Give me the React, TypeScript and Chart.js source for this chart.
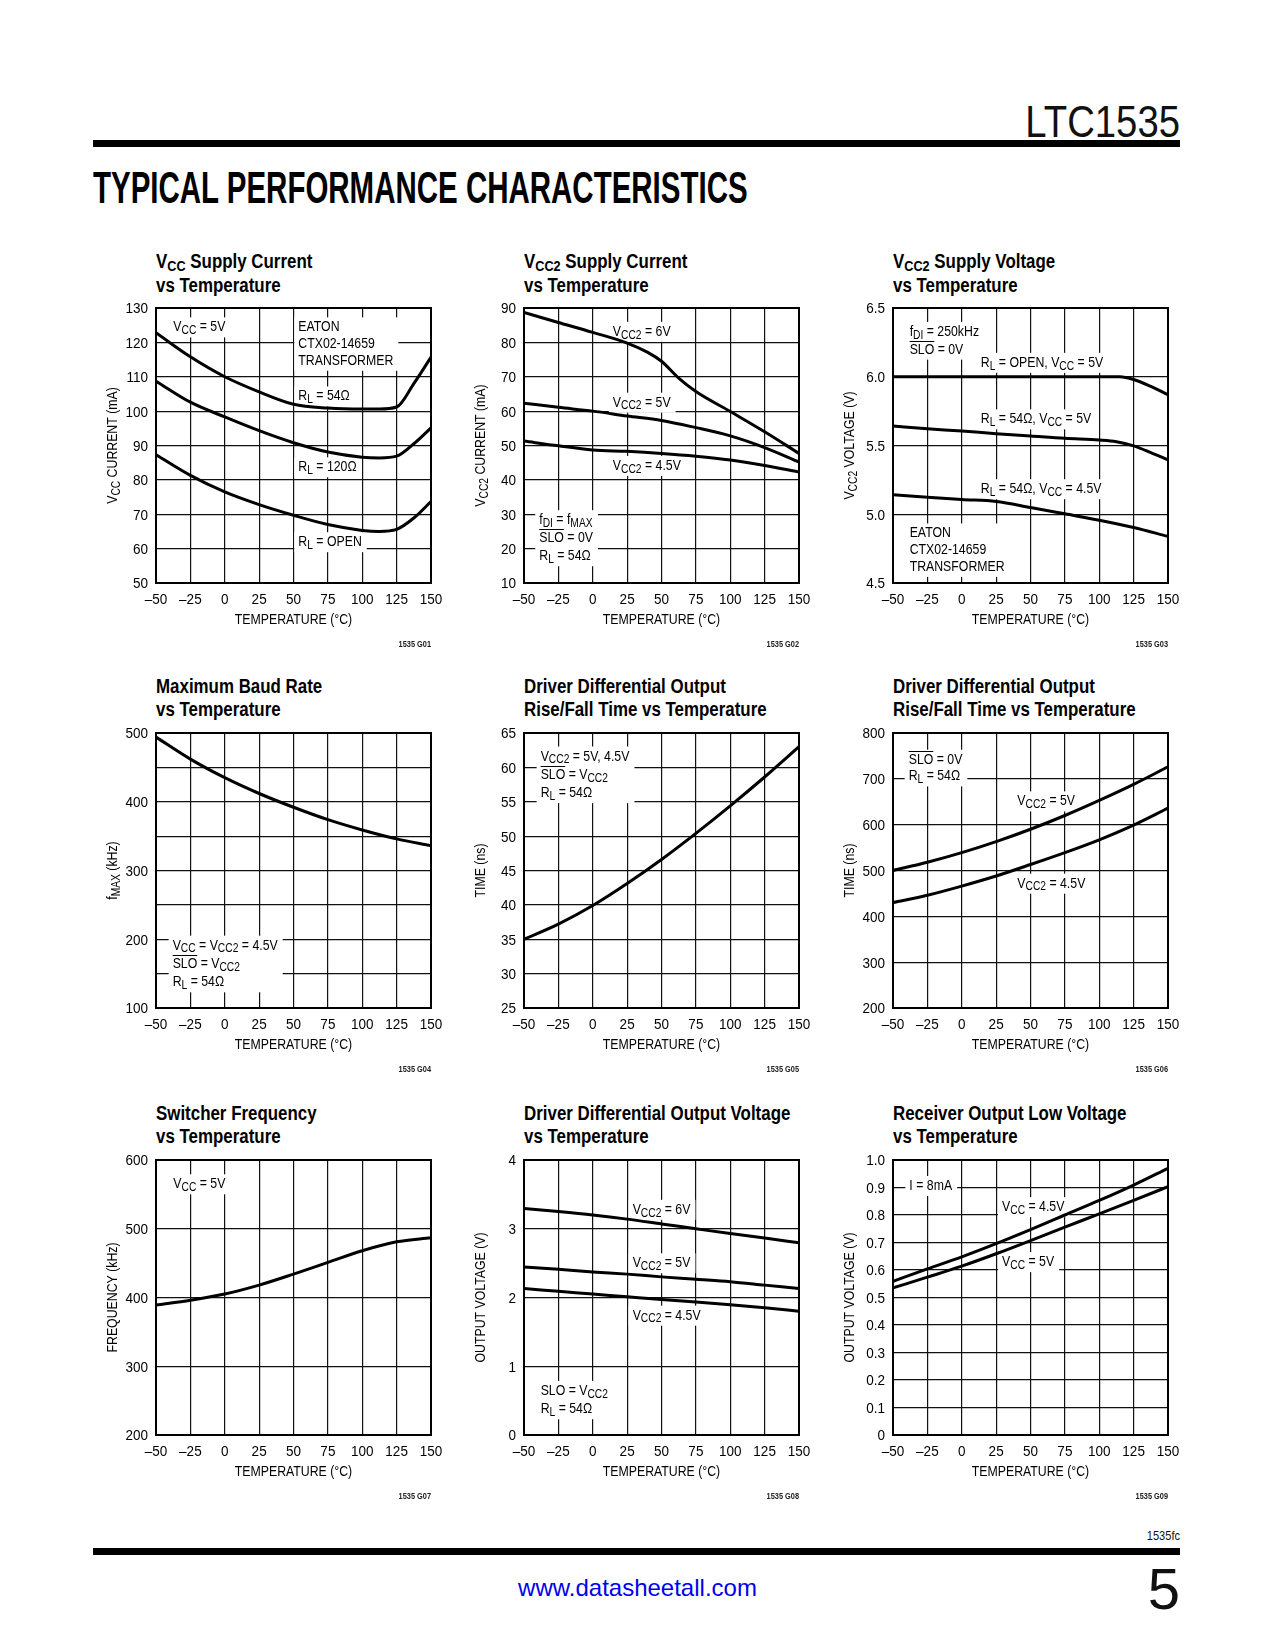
import React, { useEffect, useRef } from 'react';
import { Chart, registerables } from 'chart.js';

Chart.register(...registerables);

const FONT = '"Liberation Sans", Arial, Helvetica, sans-serif';
const SX = 0.82; // horizontal compression to mimic a condensed face
const SX_TICK = 0.9;

// ---------- data ----------
const TEMPS = [-50, -25, 0, 25, 50, 75, 100, 125, 150];

// G01 Vcc supply current (mA)
const G01_TEMPS = [-50, -25, 0, 25, 50, 75, 100, 112.5, 125, 137.5, 150];
const G01_RL54 = [122.8, 115.8, 110.0, 105.6, 102.0, 100.9, 100.6, 100.6, 101.2, 108.0, 115.7];
const G01_RL120 = [108.7, 102.6, 98.3, 94.3, 90.8, 88.1, 86.6, 86.4, 86.9, 90.5, 95.1];
const G01_OPEN = [87.3, 81.3, 76.5, 72.8, 69.7, 67.0, 65.3, 65.0, 65.6, 68.9, 73.7];

// G02 Vcc2 supply current (mA)
const G02_TEMPS_6V = [-50, -25, 0, 25, 40, 50, 62.5, 75, 100, 125, 150];
const G02_6V = [88.7, 85.8, 82.9, 79.8, 77.1, 74.5, 69.6, 65.7, 59.9, 54.0, 47.7];
const G02_5V = [62.3, 61.1, 60.0, 58.6, 57.3, 55.2, 52.8, 49.4, 45.2];
const G02_45V = [51.3, 49.9, 48.7, 48.3, 47.7, 46.9, 45.8, 44.2, 42.3];

// G03 Vcc2 supply voltage (V)
const G03_TEMPS_OPEN = [-50, 0, 50, 100, 115, 125, 137.5, 150];
const G03_OPEN = [6.0, 6.0, 6.0, 6.0, 6.0, 5.98, 5.93, 5.87];
const G03_TEMPS_54 = [-50, -25, 0, 25, 50, 75, 100, 112.5, 125, 137.5, 150];
const G03_54_5V = [5.641, 5.622, 5.605, 5.586, 5.569, 5.552, 5.54, 5.528, 5.497, 5.448, 5.395];
const G03_54_45V = [5.141, 5.124, 5.107, 5.093, 5.049, 5.003, 4.957, 4.904, 4.839];

// G04 max baud rate (kHz)
const G04_FMAX = [494, 462, 435, 412, 392, 374, 359, 346, 336];

// G05 rise/fall time, SLO = VCC2 (ns)
const G05_TIME = [35.0, 37.2, 39.9, 43.1, 46.6, 50.4, 54.4, 58.6, 63.0];

// G06 rise/fall time, SLO = 0V (ns)
const G06_5V = [500, 518, 539, 563, 590, 620, 653, 688, 726];
const G06_45V = [430, 446, 466, 488, 513, 539, 567, 599, 636];

// G07 switcher frequency (kHz)
const G07_FREQ = [389, 396, 405, 418, 434, 451, 468, 481, 487];

// G08 driver differential output voltage (V)
const G08_6V = [3.295, 3.25, 3.2, 3.14, 3.07, 3.0, 2.93, 2.865, 2.795];
const G08_5V = [2.445, 2.41, 2.372, 2.34, 2.3, 2.265, 2.23, 2.18, 2.13];
const G08_45V = [2.13, 2.09, 2.05, 2.01, 1.97, 1.935, 1.895, 1.85, 1.8];

// G09 receiver output low voltage (V)
const G09_45V = [0.559, 0.604, 0.648, 0.696, 0.747, 0.8, 0.853, 0.909, 0.97];
const G09_5V = [0.535, 0.574, 0.614, 0.659, 0.707, 0.756, 0.804, 0.853, 0.903];

// ---------- layout ----------
const COLS = [156, 524, 893];
const ROWS = [308, 733, 1160];
const PLOT = 275;
const LEFT_W = 70;
const TOP_PAD = 14;
const BOTTOM_H = 72;
const RIGHT_PAD = 25;

type Note = { x: number; y: number; lines: string[]; lh?: number };
type Series = { x: number[]; y: number[] };
type Spec = {
  id: string;
  col: number;
  row: number;
  title: string[];
  yTitle: string;
  yMin: number;
  yMax: number;
  yStep: number;
  yFmt: (v: number) => string;
  series: Series[];
  notes: Note[];
};

const SPECS: Spec[] = [
  {
    id: '1535 G01', col: 0, row: 0,
    title: ['V_{CC} Supply Current', 'vs Temperature'],
    yTitle: 'V_{CC} CURRENT (mA)',
    yMin: 50, yMax: 130, yStep: 10, yFmt: (v) => String(v),
    series: [
      { x: G01_TEMPS, y: G01_RL54 },
      { x: G01_TEMPS, y: G01_RL120 },
      { x: G01_TEMPS, y: G01_OPEN },
    ],
    notes: [
      { x: -37.4, y: 123.2, lines: ['V_{CC} = 5V'] },
      { x: 53.5, y: 123.2, lines: ['EATON', 'CTX02-14659', 'TRANSFORMER'], lh: 16.7 },
      { x: 53.5, y: 103.1, lines: ['R_{L} = 54Ω'] },
      { x: 53.5, y: 82.5, lines: ['R_{L} = 120Ω'] },
      { x: 53.5, y: 60.7, lines: ['R_{L} = OPEN'] },
    ],
  },
  {
    id: '1535 G02', col: 1, row: 0,
    title: ['V_{CC2} Supply Current', 'vs Temperature'],
    yTitle: 'V_{CC2} CURRENT (mA)',
    yMin: 10, yMax: 90, yStep: 10, yFmt: (v) => String(v),
    series: [
      { x: G02_TEMPS_6V, y: G02_6V },
      { x: TEMPS, y: G02_5V },
      { x: TEMPS, y: G02_45V },
    ],
    notes: [
      { x: 14.6, y: 81.9, lines: ['V_{CC2} = 6V'] },
      { x: 14.6, y: 61.3, lines: ['V_{CC2} = 5V'] },
      { x: 14.6, y: 42.9, lines: ['V_{CC2} = 4.5V'] },
      { x: -38.9, y: 27.1, lines: ['f_{DI} = f_{MAX}', '~{SLO} = 0V', 'R_{L} = 54Ω'], lh: 18 },
    ],
  },
  {
    id: '1535 G03', col: 2, row: 0,
    title: ['V_{CC2} Supply Voltage', 'vs Temperature'],
    yTitle: 'V_{CC2} VOLTAGE (V)',
    yMin: 4.5, yMax: 6.5, yStep: 0.5, yFmt: (v) => v.toFixed(1),
    series: [
      { x: G03_TEMPS_OPEN, y: G03_OPEN },
      { x: G03_TEMPS_54, y: G03_54_5V },
      { x: TEMPS, y: G03_54_45V },
    ],
    notes: [
      { x: -37.9, y: 6.297, lines: ['f_{DI} = 250kHz', '~{SLO} = 0V'], lh: 17.7 },
      { x: 13.9, y: 6.072, lines: ['R_{L} = OPEN, V_{CC} = 5V'] },
      { x: 13.9, y: 5.661, lines: ['R_{L} = 54Ω, V_{CC} = 5V'] },
      { x: 13.9, y: 5.153, lines: ['R_{L} = 54Ω, V_{CC} = 4.5V'] },
      { x: -37.9, y: 4.831, lines: ['EATON', 'CTX02-14659', 'TRANSFORMER'], lh: 16.7 },
    ],
  },
  {
    id: '1535 G04', col: 0, row: 1,
    title: ['Maximum Baud Rate', 'vs Temperature'],
    yTitle: 'f_{MAX} (kHz)',
    yMin: 100, yMax: 500, yStep: 50, yFmt: (v) => (v % 100 === 0 ? String(v) : ''),
    series: [{ x: TEMPS, y: G04_FMAX }],
    notes: [
      { x: -37.9, y: 184.8, lines: ['V_{CC} = V_{CC2} = 4.5V', '~{SLO} = V_{CC2}', 'R_{L} = 54Ω'], lh: 18.3 },
    ],
  },
  {
    id: '1535 G05', col: 1, row: 1,
    title: ['Driver Differential Output', 'Rise/Fall Time vs Temperature'],
    yTitle: 'TIME (ns)',
    yMin: 25, yMax: 65, yStep: 5, yFmt: (v) => String(v),
    series: [{ x: TEMPS, y: G05_TIME }],
    notes: [
      { x: -37.9, y: 61.0, lines: ['V_{CC2} = 5V, 4.5V', '~{SLO} = V_{CC2}', 'R_{L} = 54Ω'], lh: 18.3 },
    ],
  },
  {
    id: '1535 G06', col: 2, row: 1,
    title: ['Driver Differential Output', 'Rise/Fall Time vs Temperature'],
    yTitle: 'TIME (ns)',
    yMin: 200, yMax: 800, yStep: 100, yFmt: (v) => String(v),
    series: [
      { x: TEMPS, y: G06_5V },
      { x: TEMPS, y: G06_45V },
    ],
    notes: [
      { x: -38.6, y: 733, lines: ['~{SLO} = 0V', 'R_{L} = 54Ω'], lh: 16.7 },
      { x: 40.4, y: 642, lines: ['V_{CC2} = 5V'] },
      { x: 40.4, y: 462.5, lines: ['V_{CC2} = 4.5V'] },
    ],
  },
  {
    id: '1535 G07', col: 0, row: 2,
    title: ['Switcher Frequency', 'vs Temperature'],
    yTitle: 'FREQUENCY (kHz)',
    yMin: 200, yMax: 600, yStep: 100, yFmt: (v) => String(v),
    series: [{ x: TEMPS, y: G07_FREQ }],
    notes: [{ x: -37.4, y: 558.8, lines: ['V_{CC} = 5V'] }],
  },
  {
    id: '1535 G08', col: 1, row: 2,
    title: ['Driver Differential Output Voltage', 'vs Temperature'],
    yTitle: 'OUTPUT VOLTAGE (V)',
    yMin: 0, yMax: 4, yStep: 1, yFmt: (v) => String(v),
    series: [
      { x: TEMPS, y: G08_6V },
      { x: TEMPS, y: G08_5V },
      { x: TEMPS, y: G08_45V },
    ],
    notes: [
      { x: 29, y: 3.217, lines: ['V_{CC2} = 6V'] },
      { x: 29, y: 2.44, lines: ['V_{CC2} = 5V'] },
      { x: 29, y: 1.677, lines: ['V_{CC2} = 4.5V'] },
      { x: -37.9, y: 0.583, lines: ['SLO = V_{CC2}', 'R_{L} = 54Ω'], lh: 18.3 },
    ],
  },
  {
    id: '1535 G09', col: 2, row: 2,
    title: ['Receiver Output Low Voltage', 'vs Temperature'],
    yTitle: 'OUTPUT VOLTAGE (V)',
    yMin: 0, yMax: 1, yStep: 0.1, yFmt: (v) => (Math.abs(v) < 1e-9 ? '0' : v.toFixed(1)),
    series: [
      { x: TEMPS, y: G09_45V },
      { x: TEMPS, y: G09_5V },
    ],
    notes: [
      { x: -38.1, y: 0.891, lines: ['I = 8mA'] },
      { x: 29.3, y: 0.814, lines: ['V_{CC} = 4.5V'] },
      { x: 29.3, y: 0.614, lines: ['V_{CC} = 5V'] },
    ],
  },
];

// ---------- rich text helpers ----------
type Seg = { t: string; k: 'n' | 's' | 'o' };
function parseRich(s: string): Seg[] {
  const out: Seg[] = [];
  const re = /_\{([^}]*)\}|~\{([^}]*)\}/g;
  let last = 0;
  let m: RegExpExecArray | null;
  while ((m = re.exec(s))) {
    if (m.index > last) out.push({ t: s.slice(last, m.index), k: 'n' });
    if (m[1] !== undefined) out.push({ t: m[1], k: 's' });
    else out.push({ t: m[2], k: 'o' });
    last = re.lastIndex;
  }
  if (last < s.length) out.push({ t: s.slice(last), k: 'n' });
  return out;
}

const TXT = 15;
const SUB = 12.5;
function fontFor(k: string, size = TXT) {
  return `${k === 's' ? (size * SUB) / TXT : size}px ${FONT}`;
}
function measureRich(ctx: CanvasRenderingContext2D, s: string, size = TXT, sx = SX) {
  let w = 0;
  for (const seg of parseRich(s)) {
    ctx.font = fontFor(seg.k, size);
    w += ctx.measureText(seg.t).width * sx;
  }
  return w;
}
function drawRich(ctx: CanvasRenderingContext2D, s: string, x: number, y: number, size = TXT, sx = SX) {
  let cx = x;
  for (const seg of parseRich(s)) {
    ctx.font = fontFor(seg.k, size);
    ctx.textAlign = 'left';
    ctx.textBaseline = 'alphabetic';
    ctx.fillStyle = '#000';
    const w = ctx.measureText(seg.t).width * sx;
    const dy = seg.k === 's' ? size * 0.18 : 0;
    ctx.save();
    ctx.translate(cx, y + dy);
    ctx.scale(sx, 1);
    ctx.fillText(seg.t, 0, 0);
    ctx.restore();
    if (seg.k === 'o') {
      ctx.save();
      ctx.strokeStyle = '#000';
      ctx.lineWidth = 1;
      ctx.beginPath();
      const oy = Math.round(y - size * 0.716 - 2) + 0.5;
      ctx.moveTo(cx, oy);
      ctx.lineTo(cx + w, oy);
      ctx.stroke();
      ctx.restore();
    }
    cx += w;
  }
}

function makePlugin(spec: Spec) {
  return {
    id: 'panelDeco',
    beforeDatasetsDraw(chart: any) {
      const { ctx } = chart;
      const xs = chart.scales.x;
      const ys = chart.scales.y;
      ctx.save();
      for (const n of spec.notes) {
        const px = xs.getPixelForValue(n.x);
        const py = ys.getPixelForValue(n.y);
        const lh = n.lh || 17.5;
        const w = Math.max(...n.lines.map((l) => measureRich(ctx, l)));
        ctx.fillStyle = '#fff';
        ctx.fillRect(px - 4, py - 14, w + 9, (n.lines.length - 1) * lh + 20);
        n.lines.forEach((l, i) => drawRich(ctx, l, px, py + i * lh));
      }
      ctx.restore();
    },
    afterDatasetsDraw(chart: any) {
      const { ctx, chartArea: a } = chart;
      ctx.save();
      ctx.strokeStyle = '#000';
      ctx.lineWidth = 2;
      ctx.strokeRect(a.left, a.top, a.right - a.left, a.bottom - a.top);
      ctx.restore();
    },
    afterDraw(chart: any) {
      const { ctx, chartArea: a } = chart;
      const xs = chart.scales.x;
      const ys = chart.scales.y;
      // tick labels, positioned by the library's scales
      for (const t of ys.ticks) {
        const lab = spec.yFmt(Number(t.value));
        if (!lab) continue;
        const py = ys.getPixelForValue(t.value);
        const w = measureRich(ctx, lab, TXT, SX_TICK);
        drawRich(ctx, lab, a.left - 8 - w, py + 5.4, TXT, SX_TICK);
      }
      for (const t of xs.ticks) {
        const v = Number(t.value);
        const lab = fmtTemp(v);
        const px = xs.getPixelForValue(v);
        const w = measureRich(ctx, lab, TXT, SX_TICK);
        drawRich(ctx, lab, px - w / 2, a.bottom + 20.5, TXT, SX_TICK);
      }
      ctx.save();
      // y title
      ctx.translate(a.left - 44, (a.top + a.bottom) / 2);
      ctx.rotate(-Math.PI / 2);
      const w = measureRich(ctx, spec.yTitle);
      drawRich(ctx, spec.yTitle, -w / 2, 5.4);
      ctx.restore();
      // x title
      const xt = 'TEMPERATURE (°C)';
      const xw = measureRich(ctx, xt);
      drawRich(ctx, xt, (a.left + a.right) / 2 - xw / 2, a.bottom + 40.5);
      // id
      ctx.save();
      ctx.font = `bold 9px ${FONT}`;
      ctx.textAlign = 'left';
      ctx.fillStyle = '#222';
      const iw = ctx.measureText(spec.id).width * SX;
      ctx.translate(a.right - iw, a.bottom + 64);
      ctx.scale(SX, 1);
      ctx.fillText(spec.id, 0, 0);
      ctx.restore();
    },
  };
}

const fmtTemp = (v: number) => (v < 0 ? '\u2013' + Math.abs(v) : String(v));

function Panel({ spec }: { spec: Spec }) {
  const ref = useRef<HTMLCanvasElement | null>(null);
  const W = LEFT_W + PLOT + RIGHT_PAD;
  const H = TOP_PAD + PLOT + BOTTOM_H;
  useEffect(() => {
    if (!ref.current) return;
    const chart = new Chart(ref.current, {
      type: 'line',
      data: {
        datasets: spec.series.map((s) => ({
          data: s.x.map((x, i) => ({ x, y: s.y[i] })),
          borderColor: '#000',
          borderWidth: 3,
          pointRadius: 0,
          cubicInterpolationMode: 'monotone' as const,
          fill: false,
        })),
      },
      options: {
        responsive: false,
        animation: false,
        devicePixelRatio: 1,
        events: [],
        layout: { padding: { top: TOP_PAD, right: RIGHT_PAD, left: 0, bottom: 0 } },
        plugins: { legend: { display: false }, tooltip: { enabled: false }, title: { display: false } },
        scales: {
          x: {
            type: 'linear',
            min: -50,
            max: 150,
            ticks: { stepSize: 25, display: false, autoSkip: false },
            grid: { color: '#111', lineWidth: 1.2, drawTicks: false },
            border: { color: '#000', width: 2 },
            afterFit: (s: any) => {
              s.height = BOTTOM_H;
            },
          },
          y: {
            type: 'linear',
            min: spec.yMin,
            max: spec.yMax,
            ticks: { stepSize: spec.yStep, display: false, autoSkip: false },
            grid: { color: '#111', lineWidth: 1.2, drawTicks: false },
            border: { color: '#000', width: 2 },
            afterFit: (s: any) => {
              s.width = LEFT_W;
            },
          },
        },
      } as any,
      plugins: [makePlugin(spec)],
    });
    return () => chart.destroy();
  }, [spec]);
  const left = COLS[spec.col] - LEFT_W;
  const top = ROWS[spec.row] - TOP_PAD;
  return (
    <canvas
      ref={ref}
      width={W}
      height={H}
      style={{ position: 'absolute', left, top, width: W, height: H }}
    />
  );
}

function RichHtml({ s }: { s: string }) {
  return (
    <>
      {parseRich(s).map((seg, i) =>
        seg.k === 's' ? (
          <span key={i} style={{ fontSize: '0.75em', position: 'relative', top: '0.25em' }}>
            {seg.t}
          </span>
        ) : seg.k === 'o' ? (
          <span key={i} style={{ textDecoration: 'overline' }}>{seg.t}</span>
        ) : (
          <span key={i}>{seg.t}</span>
        )
      )}
    </>
  );
}

function PanelTitle({ spec }: { spec: Spec }) {
  return (
    <div
      style={{
        position: 'absolute',
        left: COLS[spec.col],
        top: ROWS[spec.row] - 58.5,
        fontFamily: FONT,
        fontWeight: 700,
        fontSize: 20,
        lineHeight: '23px',
        color: '#000',
        whiteSpace: 'nowrap',
        transform: 'scaleX(0.845)',
        transformOrigin: 'left top',
      }}
    >
      {spec.title.map((t, i) => (
        <div key={i}>
          <RichHtml s={t} />
        </div>
      ))}
    </div>
  );
}

export default function App() {
  return (
    <div
      style={{
        position: 'absolute',
        left: 0,
        top: 0,
        width: 1275,
        height: 1650,
        background: '#fff',
        overflow: 'hidden',
      }}
    >
      <div
        style={{
          position: 'absolute',
          left: 0,
          top: 100,
          width: 1180,
          textAlign: 'right',
          fontFamily: FONT,
          fontSize: 44,
          lineHeight: 1,
          color: '#111',
          transform: 'scaleX(0.87)',
          transformOrigin: 'right top',
        }}
      >
        LTC1535
      </div>
      <div style={{ position: 'absolute', left: 93, top: 140, width: 1087, height: 7, background: '#000' }} />
      <div
        style={{
          position: 'absolute',
          left: 93,
          top: 166,
          fontFamily: FONT,
          fontWeight: 700,
          fontSize: 44,
          lineHeight: 1,
          color: '#000',
          whiteSpace: 'nowrap',
          transform: 'scaleX(0.67)',
          transformOrigin: 'left top',
        }}
      >
        TYPICAL PERFORMANCE CHARACTERISTICS
      </div>

      {SPECS.map((s) => (
        <PanelTitle key={'t' + s.id} spec={s} />
      ))}
      {SPECS.map((s) => (
        <Panel key={s.id} spec={s} />
      ))}

      <div
        style={{
          position: 'absolute',
          left: 0,
          top: 1529,
          width: 1180,
          textAlign: 'right',
          fontFamily: FONT,
          fontSize: 13,
          lineHeight: 1,
          color: '#111',
          transform: 'scaleX(0.85)',
          transformOrigin: 'right top',
        }}
      >
        1535fc
      </div>
      <div style={{ position: 'absolute', left: 93, top: 1548, width: 1087, height: 7, background: '#000' }} />
      <div
        style={{
          position: 'absolute',
          left: 0,
          width: 1275,
          top: 1576,
          textAlign: 'center',
          fontFamily: FONT,
          fontSize: 24,
          lineHeight: 1,
          color: '#0000ee',
        }}
      >
        www.datasheetall.com
      </div>
      <div
        style={{
          position: 'absolute',
          left: 0,
          top: 1560,
          width: 1180,
          textAlign: 'right',
          fontFamily: FONT,
          fontSize: 58,
          lineHeight: 1,
          color: '#111',
        }}
      >
        5
      </div>
    </div>
  );
}
